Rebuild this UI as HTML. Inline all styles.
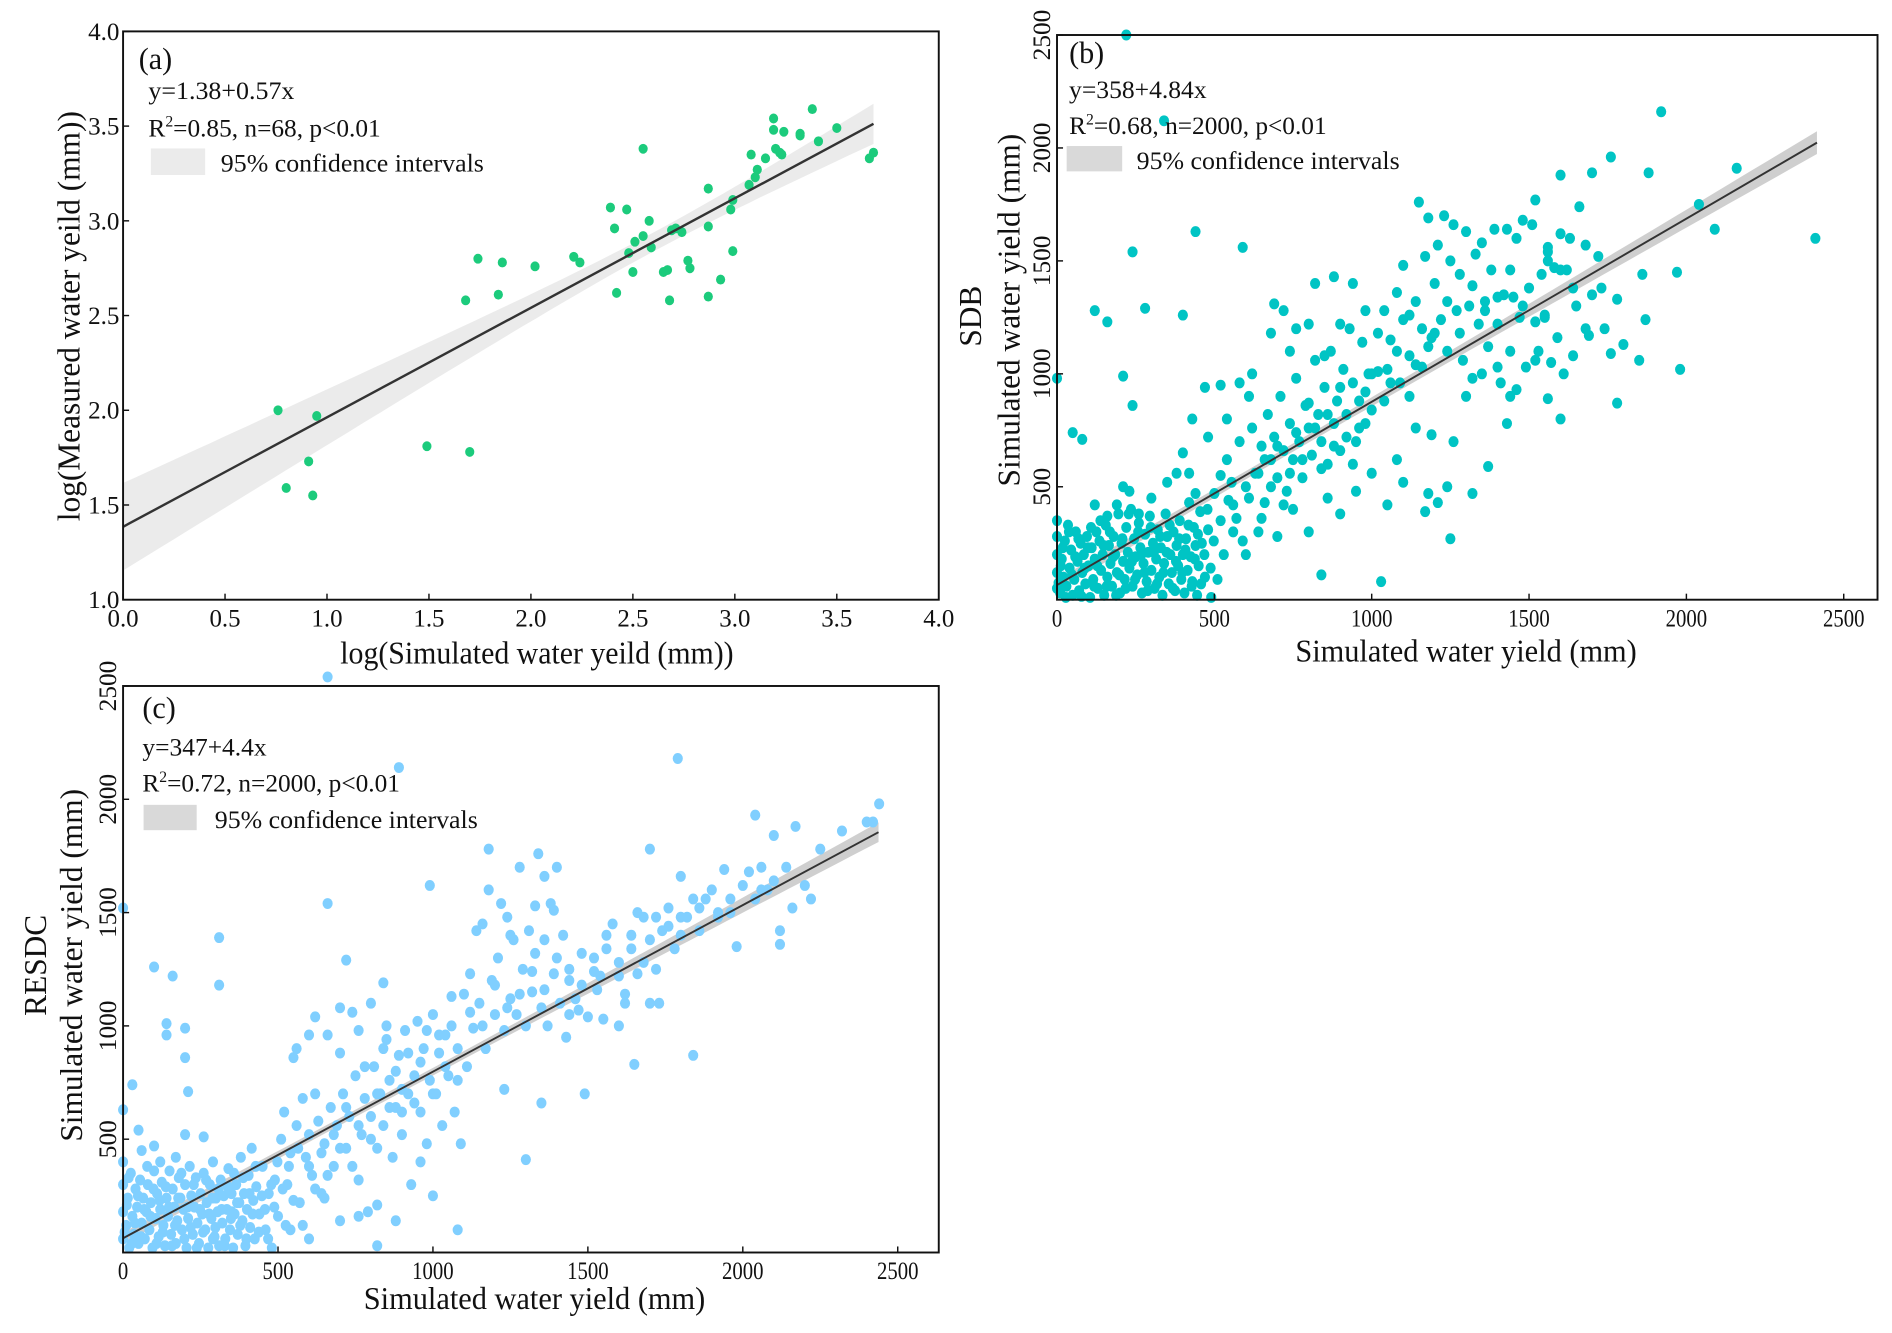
<!DOCTYPE html>
<html><head><meta charset="utf-8"><style>
html,body{margin:0;padding:0;background:#fff;}
svg{display:block;font-family:"Liberation Serif",serif;}
</style></head><body>
<svg id="fig" xmlns="http://www.w3.org/2000/svg" width="1892" height="1333" viewBox="0 0 1568 1104.7">
<rect x="0" y="0" width="1568" height="1104.7" fill="#fff"/>
</svg>
<script>
// ---- Panel (a) data ----
const aXTicks = [0.0,0.5,1.0,1.5,2.0,2.5,3.0,3.5,4.0];
const aYTicks = [1.0,1.5,2.0,2.5,3.0,3.5,4.0];
const aX = [0.76,0.80,0.91,0.93,0.95,1.49,1.70,1.68,1.74,1.84,1.86,2.02,2.21,2.24,2.39,2.41,2.42,2.47,2.48,2.50,2.51,2.55,2.55,2.58,2.59,2.65,2.67,2.68,2.69,2.71,2.74,2.77,2.78,2.87,2.87,2.87,2.93,2.98,2.99,2.99,3.07,3.08,3.10,3.11,3.15,3.19,3.19,3.20,3.22,3.23,3.24,3.32,3.32,3.38,3.41,3.50,3.66,3.68];
const aY = [2.00,1.59,1.73,1.55,1.97,1.81,1.78,2.58,2.80,2.61,2.78,2.76,2.81,2.78,3.07,2.96,2.62,3.06,2.83,2.73,2.89,2.92,3.38,3.00,2.86,2.73,2.74,2.58,2.95,2.96,2.94,2.79,2.75,3.17,2.97,2.60,2.69,3.06,3.11,2.84,3.19,3.35,3.23,3.27,3.33,3.54,3.48,3.38,3.36,3.35,3.47,3.46,3.45,3.59,3.42,3.49,3.33,3.36];
const aFit = [1.385, 0.578];
const aFitRange = [0.0, 3.68];
const aCI = [0.05, 2.6, 0.0075];

// ---- Panel (b) data ----
const bXTicks = [0,500,1000,1500,2000,2500];
const bYTicks = [500,1000,1500,2000,2500];
const bFit = [65, 0.811];
const bFitRange = [0, 2415];
const bCI = [18, 700, 0.00000075];
const bPoints = [[220,2500],[340,2120],[1920,2160],[2410,1600],[2160,1910],[2040,1750],[2090,1640],[1760,1960],[1880,1890],[1700,1890],[1600,1880],[440,1630],[590,1560],[240,1540],[120,1280],[160,1230],[280,1290],[400,1260],[0,980],[210,990],[240,860],[50,740],[80,710],[1970,1450],[1980,1020],[1780,870],[1250,270],[1030,80],[840,110],[1370,590],[1320,470],[1210,430],[1170,390],[1240,500],[1180,470],[1050,420],[1560,890],[1600,800],[1430,780],
[0,50],[0,120],[0,200],[0,280],[0,350],[10,30],[15,180],[20,100],[25,260],[30,60],[35,330],[40,140],[45,220],[50,20],[55,90],[60,300],[65,170],[70,40],[75,250],[80,120],[85,200],[90,70],[95,280],[100,150],[105,10],[110,230],[115,90],[120,180],[125,300],[130,50],[135,260],[140,130],[145,200],[150,20],[155,330],[160,100],[165,240],[170,160],[175,60],[180,280],[185,200],[190,120],[195,380],[200,30],[205,250],[210,170],[215,90],[220,320],[225,210],[230,140],[235,400],[240,60],[245,270],[250,190],[255,110],[260,340],[265,230],[270,30],[275,160],[280,290],[285,80],[290,210],[295,370],[300,130],[305,250],[310,50],[315,180],[320,310],[325,100],[330,230],[335,20],[340,160],[345,380],[350,280],[355,70],[360,200],[365,120],[370,300],[375,40],[380,240],[385,150],[390,350],[395,90],[400,200],[405,30],[410,270],[415,130],[420,430],[425,190],[430,80],[435,320],[440,240],[445,20],[450,150],[455,390],[460,250],[470,100],[480,310],[490,10],[500,470],[210,500],[190,420],[160,370],[120,420],[300,450],[350,520],[420,560],[440,470],[260,380],[230,480],
[5,75],[12,150],[18,230],[28,10],[38,300],[48,110],[58,190],[68,270],[78,15],[88,140],[98,230],[108,320],[118,60],[128,150],[138,350],[148,240],[158,60],[168,300],[178,190],[188,20],[198,110],[208,270],[218,50],[228,380],[238,170],[248,90],[258,300],[268,200],[278,120],[288,40],[298,320],[308,210],[318,70],[328,280],[338,120],[348,210],[358,330],[368,50],[378,170],[388,270],[398,120],[408,220],[418,330],[428,60],[438,180],[448,290],[458,70],[468,200],[478,400],[488,140],[498,260],[510,90],[520,350],[530,200],[545,440],[555,520],[570,360],[590,260],[610,450],[630,560],[640,300],[660,620],[680,500],[700,680],[720,420],[740,560],[760,740],[780,620],[800,870],[820,760],[840,580],[860,820],[880,680],[900,940],[920,720],[940,600],[960,760],[980,920],[1000,840],[1020,1180],[1040,1280],[1060,960],[1080,1100],[1100,1240],[1120,1080],[1140,1320],[1160,1030],[1200,1180],[1240,1320],[1280,1180],[1320,1390],[1360,1280],[1400,1340],[1440,1460],[1480,1300],[1520,1230],[1560,1560],[1600,1460],[1640,1380],[1680,1570],[1560,1500],
[520,550],[540,620],[560,420],[580,700],[600,500],[610,900],[620,760],[640,560],[650,680],[660,430],[670,820],[680,620],[690,720],[700,540],[710,900],[720,660],[730,480],[740,780],[750,620],[760,980],[770,700],[780,540],[790,860],[800,760],[810,640],[820,1060],[830,820],[840,700],[850,940],[860,600],[870,1100],[880,780],[890,880],[900,660],[910,1020],[920,820],[930,1200],[940,960],[950,700],[960,880],[970,1140],[980,780],[990,1000],[1000,560],[560,300],[600,200],[650,360],[700,280],[750,400],[800,300],[860,450],[900,380],[950,480],[580,960],[620,1000],[680,1180],[720,1280],[740,1100],[800,1220],[850,1080],[900,1220],[940,1400],[820,1400],[880,1430],[520,950],[470,940],[430,800],[400,650],[380,560],[480,720],[540,800],[690,1310],[760,1200],[1000,1000],[980,1280],
[1020,1010],[1040,880],[1060,1150],[1080,1360],[1090,960],[1100,1480],[1120,1260],[1140,1040],[1150,1760],[1160,1200],[1170,1520],[1180,1690],[1190,1160],[1200,1400],[1210,1570],[1220,1240],[1230,1700],[1240,1100],[1250,1500],[1260,1660],[1270,1280],[1280,1440],[1290,1060],[1300,1630],[1310,1300],[1320,980],[1330,1530],[1340,1220],[1350,1580],[1360,1320],[1370,1120],[1380,1460],[1390,1640],[1400,1220],[1410,960],[1420,1350],[1430,1640],[1440,1100],[1450,1340],[1460,1600],[1470,1250],[1480,1680],[1490,1030],[1500,1380],[1510,1660],[1520,1770],[1530,1100],[1540,1440],[1550,1260],[1560,1540],[1570,1050],[1580,1470],[1590,1160],[1600,1620],[1610,1000],[1620,1460],[1640,1080],[1650,1300],[1660,1740],[1680,1200],[1700,1350],[1720,1520],[1740,1200],[1760,1090],[1780,1330],[1800,1130],[1850,1060],[1860,1440],[1870,1240],[1080,620],[1100,520],[1140,760],[1180,1120],[1050,1020],[1120,900],[1190,730],[1260,700],[1300,900],[1350,1000],[1400,1030],[1440,900],[1460,930],[1520,1060],[1550,1250],[1630,1600],[1690,1170],[1730,1380]];

// ---- Panel (c) data ----
const cXTicks = [0,500,1000,1500,2000,2500];
const cYTicks = [500,1000,1500,2000,2500];
const cFit = [63, 0.735];
const cFitRange = [0, 2438];
const cCI = [16, 800, 0.0000006];
const cPoints = [[660,2540],[890,2140],[1790,2180],[2440,1980],[2040,1930],[2170,1880],[2400,1900],[2420,1900],[2320,1860],[2250,1780],[2100,1840],[0,1520],[0,630],[310,1390],[310,1180],[100,1260],[160,1220],[140,1010],[140,960],[200,990],[200,860],[210,710],[50,540],[30,740],[100,470],[660,1540],[990,1620],[720,1290],[840,1190],[1180,1780],[1700,1780],[1840,870],[1300,410],[1080,100],[820,30],[1350,660],[1490,700],[1650,830],[1230,720],
[0,60],[0,180],[0,300],[0,400],[10,120],[15,240],[20,20],[25,350],[30,160],[35,80],[40,280],[45,200],[50,40],[55,320],[60,130],[65,240],[70,60],[75,180],[80,300],[85,100],[90,220],[95,20],[100,360],[105,150],[110,260],[115,70],[120,190],[125,310],[130,120],[135,30],[140,240],[145,160],[150,360],[155,80],[160,280],[165,200],[170,40],[175,140],[180,330],[185,240],[190,100],[195,190],[200,300],[205,20],[210,150],[215,380],[220,250],[225,80],[230,200],[235,330],[240,130],[245,40],[250,260],[255,170],[260,350],[265,100],[270,220],[275,20],[280,300],[285,150],[290,400],[295,70],[300,240],[305,180],[310,30],[315,320],[320,130],[325,250],[330,60],[335,190],[340,370],[345,100],[350,260],[355,20],[360,170],[365,300],[370,80],[375,220],[380,420],[385,140],[390,260],[395,30],[400,190],[405,340],[410,110],[415,460],[420,230],[425,60],[430,290],[440,170],[450,380],[460,100],[470,260],[480,20],[490,320],[500,160],[290,60],[350,180],[200,520],[170,420],[120,400],[60,450],[260,510],
[5,90],[12,210],[18,330],[28,40],[38,130],[48,250],[58,70],[68,190],[78,380],[88,160],[98,280],[108,40],[118,230],[128,90],[138,290],[148,200],[158,30],[168,120],[178,240],[188,350],[198,60],[208,200],[218,110],[228,300],[238,20],[248,190],[258,90],[268,320],[278,170],[288,240],[298,110],[308,280],[318,190],[328,30],[338,290],[348,150],[358,350],[368,220],[378,120],[388,330],[398,60],[408,260],[418,170],[428,380],[438,90],[448,250],[458,190],[468,60],[478,300],[488,200],[498,400],[515,280],[525,120],[535,380],[550,230],[565,460],[580,120],[600,380],[620,280],[640,440],[660,340],[680,520],[700,460],[720,640],[740,380],[760,560],[780,820],[800,500],[820,700],[840,900],[860,640],[880,800],[900,720],[920,880],[940,660],[960,840],[980,980],[1000,700],[1020,960],[1040,820],[1060,1000],[1080,760],[1120,1060],[1160,1000],[1200,1180],[1240,1080],[1280,1140],[1320,1240],[1360,1160],[1400,1300],[1440,1200],[1480,1320],[1520,1240],[1560,1400],[1600,1220],[1640,1340],[1680,1280],[1720,1480],[1760,1440],[1800,1480],[1860,1520],[1960,1500],[2060,1600],
[510,500],[520,620],[530,300],[540,440],[550,860],[560,560],[570,220],[580,680],[590,420],[600,520],[610,340],[620,700],[630,580],[640,260],[650,480],[660,960],[670,640],[680,380],[690,560],[700,880],[710,700],[720,460],[730,600],[740,1060],[750,780],[760,320],[770,520],[780,680],[790,180],[800,600],[810,820],[820,460],[830,700],[840,560],[850,1000],[860,760],[870,420],[880,640],[890,870],[900,520],[910,980],[920,700],[930,300],[940,780],[950,1020],[960,620],[970,900],[980,480],[990,760],[1000,1050],[1010,700],[1020,880],[1030,560],[1040,960],[1050,780],[1060,1130],[1070,620],[1080,900],[1090,480],[1100,1140],[560,900],[600,960],[620,1040],[700,1080],[760,980],[800,1100],[850,940],[900,620],[960,400],[1000,250],[880,140],[820,210],[760,160],[540,100],[600,60],[650,240],[700,140],
[1110,820],[1120,1230],[1130,990],[1140,1420],[1150,1100],[1160,1450],[1170,900],[1180,1600],[1190,1200],[1200,1050],[1210,1300],[1220,1540],[1230,980],[1240,1480],[1250,1120],[1260,1380],[1270,1050],[1280,1700],[1290,1250],[1300,1000],[1310,1420],[1320,1150],[1330,1320],[1340,1760],[1350,1080],[1360,1380],[1370,1000],[1380,1540],[1390,1230],[1400,1700],[1410,1100],[1420,1400],[1430,950],[1440,1250],[1460,1120],[1480,1180],[1500,1040],[1520,1300],[1540,1220],[1560,1340],[1580,1450],[1600,1280],[1620,1140],[1640,1400],[1660,1230],[1680,1480],[1700,1380],[1720,1250],[1740,1420],[1760,1520],[1780,1340],[1800,1660],[1820,1480],[1840,1560],[1860,1420],[1880,1560],[1900,1600],[1920,1500],[1940,1690],[1960,1560],[1980,1350],[2000,1620],[2020,1680],[2040,1560],[2060,1700],[2080,1600],[2100,1640],[2120,1420],[2140,1700],[2160,1520],[2200,1620],[2220,1560],[1250,1400],[1330,1530],[1360,1660],[1390,1510],[1440,1050],[1550,1030],[1600,1000],[1620,1100],[1660,1500],[1700,1100],[1730,1100],[1800,1400],[1920,1480],[2120,1360],[1470,1070],[1530,1160]];

const NS = "http://www.w3.org/2000/svg";
const svg = document.getElementById('fig');
function mk(tag, attrs, parent) {
  const e = document.createElementNS(NS, tag);
  for (const k in attrs) e.setAttribute(k, attrs[k]);
  (parent || svg).appendChild(e);
  return e;
}
function txt(s, attrs, parent) { const t = mk('text', attrs, parent); t.textContent = s; return t; }

function panel(cfg) {
  const g = mk('g', {});
  
  
  const sx = v => cfg.px0 + (v - cfg.dx0) / (cfg.dx1 - cfg.dx0) * (cfg.px1 - cfg.px0);
  const sy = v => cfg.py0 - (v - cfg.dy0) / (cfg.dy1 - cfg.dy0) * (cfg.py0 - cfg.py1);
  const top = [], bot = [];
  const N = 60;
  for (let i = 0; i <= N; i++) {
    const x = cfg.fitRange[0] + (cfg.fitRange[1] - cfg.fitRange[0]) * i / N;
    const y = cfg.fit[0] + cfg.fit[1] * x;
    const w = Math.sqrt(cfg.ci[0] * cfg.ci[0] + cfg.ci[2] * (x - cfg.ci[1]) * (x - cfg.ci[1]) * (cfg.ciScale || 1));
    top.push(sx(x).toFixed(1) + ',' + sy(y + w).toFixed(1));
    bot.unshift(sx(x).toFixed(1) + ',' + sy(y - w).toFixed(1));
  }
  const band = mk('polygon', {points: top.concat(bot).join(' '), fill: cfg.bandColor}, g);
  
  
  const pg = mk('g', {fill: cfg.color}, g);
  
  
  cfg.xs.forEach((x, i) => {
    const c = mk('ellipse', {cx: sx(x).toFixed(1), cy: sy(cfg.ys[i]).toFixed(1), rx: cfg.r, ry: cfg.r * 1.08}, pg);
    
    
  });
  const fl = mk('line', {x1: sx(cfg.fitRange[0]), y1: sy(cfg.fit[0] + cfg.fit[1] * cfg.fitRange[0]), x2: sx(cfg.fitRange[1]), y2: sy(cfg.fit[0] + cfg.fit[1] * cfg.fitRange[1]), stroke: '#333', 'stroke-width': cfg.lw}, g);
  
  
  const fr = mk('rect', {x: cfg.px0, y: cfg.py1, width: cfg.boxR - cfg.px0, height: cfg.py0 - cfg.py1, fill: 'none', stroke: '#111', 'stroke-width': 1.6}, g);
  
  
  cfg.xTicks.forEach(v => {
    mk('line', {x1: sx(v), x2: sx(v), y1: cfg.py0, y2: cfg.py0 - 5, stroke: '#111', 'stroke-width': 1.2}, g);
    const t = txt(cfg.fmt(v), {x: sx(v), y: cfg.py0 + 22, 'font-size': 21, 'text-anchor': 'middle', fill: '#111', textLength: cfg.fmt(v).length * 8.6, lengthAdjust: 'spacingAndGlyphs'}, g);
    
    
  });
  cfg.yTicks.forEach(v => {
    mk('line', {x1: cfg.px0, x2: cfg.px0 + 5, y1: sy(v), y2: sy(v), stroke: '#111', 'stroke-width': 1.2}, g);
    let t;
    if (cfg.rotY) {
      t = txt(cfg.fmt(v), {x: 0, y: 0, 'font-size': 21, 'text-anchor': 'middle', fill: '#111', transform: 'translate(' + (cfg.px0 - 6) + ',' + sy(v) + ') rotate(-90)'}, g);
    } else {
      t = txt(cfg.fmt(v), {x: cfg.px0 - 3, y: sy(v) + 7, 'font-size': 21, 'text-anchor': 'end', fill: '#111', textLength: 26, lengthAdjust: 'spacingAndGlyphs'}, g);
    }
    
    
  });
  return {sx, sy, g};
}

panel({id:'a', px0:102, px1:778, boxR:778, py0:497, py1:26, dx0:0, dx1:4, dy0:1, dy1:4,
  xs:aX, ys:aY, fit:aFit, fitRange:aFitRange, ci:aCI, bandColor:'#ebebeb', color:'#1ccb7c', r:3.8, lw:2,
  xTicks:aXTicks, yTicks:aYTicks, fmt: v => v.toFixed(1), rotY:false});
panel({id:'b', px0:876, px1:1528, boxR:1556, py0:497, py1:29, dx0:0, dx1:2500, dy0:0, dy1:2500,
  xs:bPoints.map(p=>p[0]), ys:bPoints.map(p=>p[1]), fit:bFit, fitRange:bFitRange, ci:bCI, ciScale:1000, bandColor:'#cfcfcf', color:'#00c4c4', r:4.2, lw:1.6,
  xTicks:bXTicks, yTicks:bYTicks, fmt: v => String(v), rotY:true});
panel({id:'c', px0:102, px1:744, boxR:778, py0:1038, py1:568.5, dx0:0, dx1:2500, dy0:0, dy1:2500,
  xs:cPoints.map(p=>p[0]), ys:cPoints.map(p=>p[1]), fit:cFit, fitRange:cFitRange, ci:cCI, ciScale:1000, bandColor:'#cfcfcf', color:'#80cfff', r:4.2, lw:1.6,
  xTicks:cXTicks, yTicks:cYTicks, fmt: v => String(v), rotY:true});
</script>
<svg style="position:absolute;left:0;top:0" width="1892" height="1333" viewBox="0 0 1568 1104.7">
<g font-family="Liberation Serif, serif" fill="#111">
  <text x="115" y="57" font-size="25">(a)</text>
  <text x="123" y="82" font-size="21" textLength="121" lengthAdjust="spacingAndGlyphs">y=1.38+0.57x</text>
  <text x="123" y="113" font-size="21">R<tspan dy="-8" font-size="13">2</tspan><tspan dy="8">=0.85, n=68, p&lt;0.01</tspan></text>
  <rect x="125" y="123" width="45" height="22" fill="#ebebeb"/>
  <text x="183" y="142" font-size="21" textLength="218" lengthAdjust="spacingAndGlyphs">95% confidence intervals</text>
  <text x="445" y="550" font-size="26" text-anchor="middle" textLength="326" lengthAdjust="spacingAndGlyphs">log(Simulated water yeild (mm))</text>
  <text transform="translate(66,262) rotate(-90)" font-size="26" text-anchor="middle">log(Measured water yeild (mm))</text>

  <text x="886" y="52" font-size="25">(b)</text>
  <text x="886" y="81" font-size="21" textLength="114" lengthAdjust="spacingAndGlyphs">y=358+4.84x</text>
  <text x="886" y="111" font-size="21">R<tspan dy="-8" font-size="13">2</tspan><tspan dy="8">=0.68, n=2000, p&lt;0.01</tspan></text>
  <rect x="884" y="121" width="46" height="21" fill="#d9d9d9"/>
  <text x="942" y="140" font-size="21" textLength="218" lengthAdjust="spacingAndGlyphs">95% confidence intervals</text>
  <text x="1215" y="548" font-size="26" text-anchor="middle" textLength="283" lengthAdjust="spacingAndGlyphs">Simulated water yield (mm)</text>
  <text transform="translate(813,262) rotate(-90)" font-size="26" text-anchor="middle">SDB</text>
  <text transform="translate(845,257) rotate(-90)" font-size="26" text-anchor="middle">Simulated water yield (mm)</text>

  <text x="118" y="595" font-size="25">(c)</text>
  <text x="118" y="626" font-size="21" textLength="103" lengthAdjust="spacingAndGlyphs">y=347+4.4x</text>
  <text x="118" y="656" font-size="21">R<tspan dy="-8" font-size="13">2</tspan><tspan dy="8">=0.72, n=2000, p&lt;0.01</tspan></text>
  <rect x="119" y="667" width="44" height="21" fill="#d9d9d9"/>
  <text x="178" y="686" font-size="21" textLength="218" lengthAdjust="spacingAndGlyphs">95% confidence intervals</text>
  <text x="443" y="1085" font-size="26" text-anchor="middle" textLength="283" lengthAdjust="spacingAndGlyphs">Simulated water yield (mm)</text>
  <text transform="translate(38,800) rotate(-90)" font-size="26" text-anchor="middle">RESDC</text>
  <text transform="translate(68,800) rotate(-90)" font-size="26" text-anchor="middle">Simulated water yield (mm)</text>
</g>
</svg>
</body></html>
